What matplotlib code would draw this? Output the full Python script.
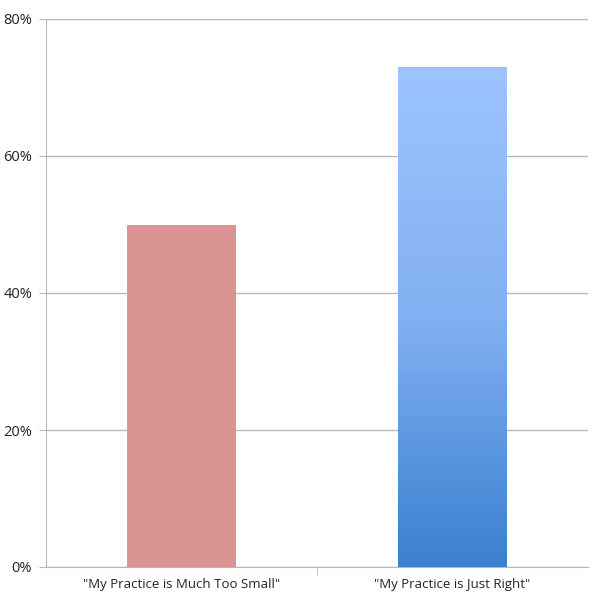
import numpy as np
import matplotlib
matplotlib.use('Agg')
import matplotlib.pyplot as plt
from matplotlib.colors import LinearSegmentedColormap
from matplotlib.ticker import PercentFormatter

# Данные
categories = ['"My Practice is Much Too Small"', '"My Practice is Just Right"']
values = [50, 73]

plt.rcParams['font.family'] = ['Open Sans', 'DejaVu Sans']

fig = plt.figure(figsize=(6.0, 5.99), dpi=100)
ax = fig.add_axes([46 / 600, 32 / 599, 542 / 600, 548 / 599])

x = np.arange(len(categories))
bars = ax.bar(x, values, width=0.4, color=['#da9494', 'none'],
              edgecolor='none', zorder=3)

# Градиент для второго столбца
grad = LinearSegmentedColormap.from_list('g', ['#3a80d0', '#82b0f2', '#9dc4ff'])
b = bars[1]
x0, w, h = b.get_x(), b.get_width(), b.get_height()
img = ax.imshow(np.linspace(0, 1, 256).reshape(-1, 1), cmap=grad, origin='lower',
                extent=[x0, x0 + w, 0, h], aspect='auto', zorder=3)
img.set_clip_path(b)

ax.set_xlim(-0.5, 1.5)
ax.set_ylim(0, 80)
ax.set_yticks([0, 20, 40, 60, 80])
ax.yaxis.set_major_formatter(PercentFormatter(decimals=0))
ax.set_xticks(x)
ax.set_xticklabels(categories)
ax.set_xticks([0.5], minor=True)

ax.grid(axis='y', color='#b8b8b8', linewidth=1, zorder=0)
for s in ['top', 'right']:
    ax.spines[s].set_visible(False)
for s in ['left', 'bottom']:
    ax.spines[s].set_color('#b8b8b8')
ax.tick_params(axis='y', colors='#b8b8b8', labelcolor='#222222', length=5,
               labelsize=10.5, pad=5)
ax.tick_params(axis='x', which='major', length=0, labelcolor='#222222',
               labelsize=9.5, pad=8)
ax.tick_params(axis='x', which='minor', length=6, color='#b8b8b8')

fig.savefig('out.png', dpi=100)
